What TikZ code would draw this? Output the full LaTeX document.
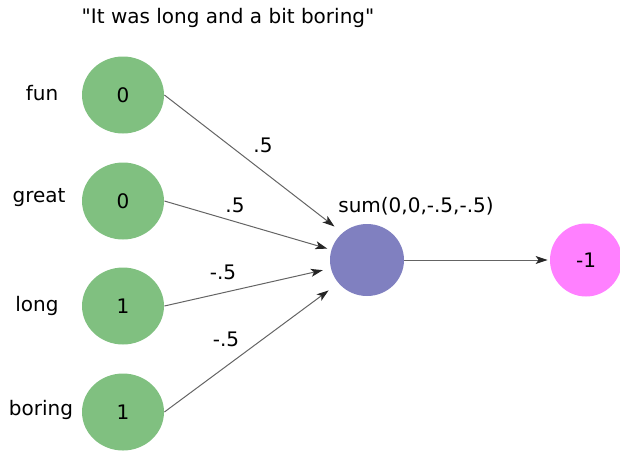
\documentclass[tikz,border=0pt]{standalone}
\usepackage{fontspec}
\setmainfont[Ligatures=TeXOff]{DejaVu Sans}
\usetikzlibrary{arrows.meta,shapes.geometric}
\definecolor{ingreen}{RGB}{128,192,128}
\definecolor{sumblue}{RGB}{128,128,192}
\definecolor{outpink}{RGB}{255,128,255}
\definecolor{edgegray}{RGB}{100,100,100}
\begin{document}
\begin{tikzpicture}[x=0.5pt,y=-0.5pt,
  every node/.style={font=\fontsize{10}{12}\selectfont, inner sep=0pt, text=black},
  innode/.style={ellipse, fill=ingreen, minimum width=41pt, minimum height=38.5pt},
  sumnode/.style={ellipse, fill=sumblue, minimum width=37pt, minimum height=36pt},
  outnode/.style={ellipse, fill=outpink, minimum width=36pt, minimum height=36.5pt},
  conn/.style={draw=edgegray, line width=0.5pt, -{Stealth[length=6pt,width=4pt,inset=1.5pt,color=black!85]}}]
\useasboundingbox (0,0) rectangle (620,451);
\clip (0,0) rectangle (620,451);
\node (title) at (228,18) {"It was long and a bit boring"};
\node (f) [innode] at (123,95) {0};
\node (g) [innode] at (123,201) {0};
\node (l) [innode] at (123,306) {1};
\node (b) [innode] at (123,412) {1};
\node (lf) at (42,93) {fun};
\node (lg) at (39,198) {great};
\node (ll) at (37,306) {long};
\node (lb) at (41,410) {boring};
\node (s) [sumnode] at (367,260) {};
\node (o) [outnode] at (586,260) {-1};
\node (sl) at (416,206) {sum(0,0,-.5,-.5)};
\draw[conn, shorten >=5pt] (f.east) -- (s.132);
\draw[conn, shorten >=2pt] (g.east) -- (s.164);
\draw[conn, shorten >=4pt] (l.east) -- (s.193);
\draw[conn, shorten >=6pt] (b.east) -- (s.219);
\draw[conn, shorten >=1pt] (s) -- (o);
\node (w1) at (263,145) {.5};
\node (w2) at (235,205) {.5};
\node (w3) at (223,272) {-.5};
\node (w4) at (226,339) {-.5};
\end{tikzpicture}
\end{document}
